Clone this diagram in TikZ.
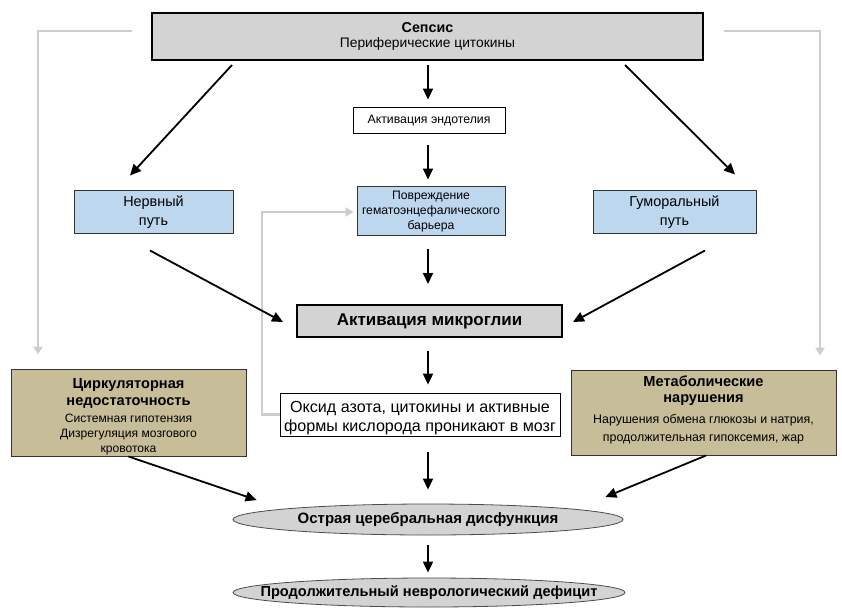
\documentclass[tikz,border=0pt]{standalone}
\usepackage{fontspec}
\setmainfont{Liberation Sans}
\usetikzlibrary{arrows.meta,shapes.geometric,calc}
\definecolor{boxgray}{HTML}{D3D3D3}
\definecolor{boxblue}{HTML}{BDD7EE}
\definecolor{boxkhaki}{HTML}{C7BD99}
\definecolor{linegray}{HTML}{CDCDCD}
\newcommand{\fs}[2]{\fontsize{#1}{#2}\selectfont}
\tikzset{
  base/.style={draw=black, line width=0.8pt, align=center, inner sep=1pt, text=black},
  mainbox/.style={base, fill=boxgray, line width=2pt},
  whitebox/.style={base, fill=white},
  bluebox/.style={base, fill=boxblue, draw=black!80, line width=1pt},
  khakibox/.style={base, fill=boxkhaki, draw=black!80, line width=1pt},
  oval/.style={base, ellipse, fill=boxgray, inner sep=0pt, draw=black!70},
  txt/.style={align=center, inner sep=0pt, text=black},
  arr/.style={-{Triangle[length=11pt,width=10pt]}, line width=1.8pt},
  garr/.style={-{Triangle[length=8pt,width=9pt]}, line width=2.4pt, draw=linegray, color=linegray},
}
\begin{document}
\begin{tikzpicture}[x=1pt,y=-1pt]
\useasboundingbox (0,0) rectangle (842,611);
\fill[white] (0,0) rectangle (842,611);

\coordinate (lg) at (38,31);
\coordinate (rg) at (820,31);

\node[mainbox, minimum width=551pt, minimum height=47pt, font=\fs{13.8}{14.5}] (sepsis) at (427.5,36.5)
  {\bfseries\fs{14.3}{14.5}Сепсис\\ Периферические цитокины};
\node[whitebox, minimum width=152pt, minimum height=26pt, font=\fs{12.3}{14}] (endo) at (429,120)
  {Активация эндотелия};

\node[bluebox, minimum width=148pt, minimum height=49pt] (bbb) at (431,210.5) {};
\node[txt, font=\fs{12.2}{15}] (bbbt) at ([yshift=-1.5pt]bbb.center)
  {Повреждение\\ гематоэнцефалического\\ барьера};
\node[bluebox, minimum width=159pt, minimum height=43pt] (nerv) at (153.5,211.5) {};
\node[txt, font=\fs{14.4}{19}] (nervt) at ([yshift=-1pt]nerv.center) {Нервный\\ путь};
\node[bluebox, minimum width=163pt, minimum height=43pt] (hum) at (674.5,211.5) {};
\node[txt, font=\fs{14.4}{19}] (humt) at ([yshift=-1pt]hum.center) {Гуморальный\\ путь};

\node[mainbox, minimum width=265pt, minimum height=32pt, font=\fs{17}{19}\bfseries] (micro) at (429.5,321)
  {Активация микроглии};

\node[whitebox, minimum width=280pt, minimum height=43pt] (oxide) at (420,414.5) {};
\node[txt, font=\fs{16.1}{18.5}] (oxidet) at ([yshift=-3.5pt]oxide.center)
  {Оксид азота, цитокины и активные\\ формы кислорода проникают в мозг};

\node[khakibox, minimum width=235pt, minimum height=85pt, font=\fs{12.1}{15.5}] (circ) at (128.5,412.5)
  {{\bfseries\fs{14.6}{17}\rule{0pt}{18pt}Циркуляторная}\\[1.5pt] {\bfseries\fs{14.6}{17}недостаточность}\\[1.5pt]
   Системная гипотензия\\ Дизрегуляция мозгового\\[-0.5pt] кровотока};
\node[khakibox, minimum width=265pt, minimum height=85pt, font=\fs{12.4}{18}] (meta) at (703.5,412.5)
  {{\bfseries\fs{14.6}{16}Метаболические}\\[-2pt] {\bfseries\fs{14.6}{16}нарушения}\\[3pt]
   Нарушения обмена глюкозы и натрия,\\ продолжительная гипоксемия, жар\rule[-7.5pt]{0pt}{1pt}};
\node[oval, minimum width=390pt, minimum height=31pt, font=\fs{15}{17}\bfseries] (acute) at (428,519.5)
  {\makebox[0pt]{Острая церебральная дисфункция}};
\node[oval, minimum width=392pt, minimum height=29pt, font=\fs{14.6}{17}\bfseries] (deficit) at (429,592.5)
  {\makebox[0pt]{Продолжительный неврологический дефицит}};

% gray connectors
\draw[garr, shorten >=14pt] ([xshift=-19pt]sepsis.west |- lg) -- (lg) -- (lg |- circ.north);
\draw[garr, shorten >=14pt] ([xshift=20pt]sepsis.east |- rg) -- (rg) -- (rg |- meta.north);
\coordinate (fb) at (262,212);
\draw[garr, shorten >=3pt] (oxide.west) -| (fb) -- (fb -| bbb.west);

% black arrows
\draw[arr, shorten <=4pt, shorten >=7pt] (sepsis.south -| 428,0) -- (endo.north -| 428,0);
\draw[arr, shorten <=12pt, shorten >=6pt] (endo.south -| 428,0) -- (bbb.north -| 428,0);
\draw[arr, shorten <=13pt, shorten >=20pt] (bbb.south -| 428,0) -- (micro.north -| 428,0);
\draw[arr, shorten <=13pt, shorten >=8pt] (micro.south -| 428,0) -- (oxide.north -| 428,0);
\draw[arr, shorten <=16pt, shorten >=14pt] (oxide.south -| 428,0) -- (acute.north -| 428,0);
\draw[arr, shorten <=10pt, shorten >=5pt] (acute.south -| 428,0) -- (deficit.north -| 428,0);

\draw[arr] ([xshift=-195.5pt,yshift=-4pt]sepsis.south) -- ([xshift=-23.5pt,yshift=14pt]nerv.north);
\draw[arr] ([xshift=197.5pt,yshift=-4pt]sepsis.south) -- ([xshift=60.5pt,yshift=15pt]hum.north);
\draw[arr] ([xshift=-3.5pt,yshift=-17pt]nerv.south) -- ([xshift=-13pt,yshift=-1pt]micro.west);
\draw[arr] ([xshift=30.5pt,yshift=-17pt]hum.south) -- ([xshift=10pt,yshift=-1pt]micro.east);
\draw[arr] (circ.south) -- ([xshift=24pt,yshift=19.5pt]acute.west);
\draw[arr] ([xshift=2.5pt]meta.south) -- ([xshift=-18pt,yshift=22.5pt]acute.east);
\end{tikzpicture}
\end{document}
